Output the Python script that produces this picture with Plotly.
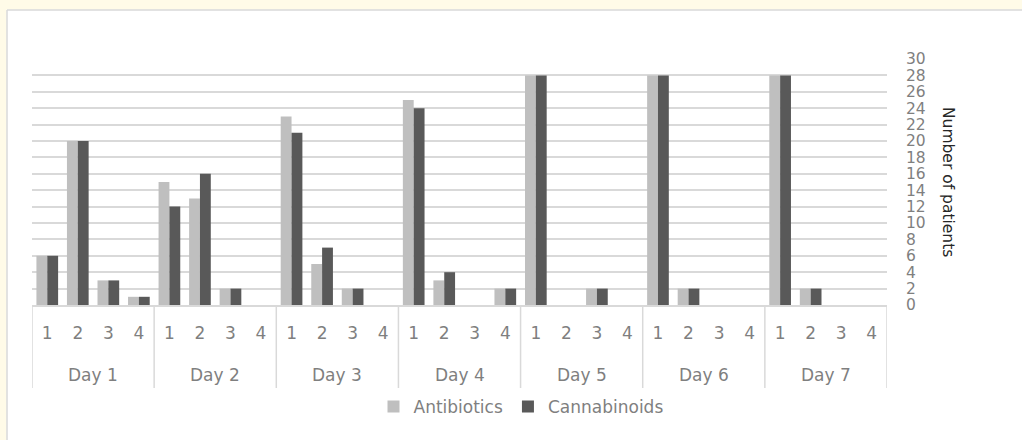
import plotly.graph_objects as go

days = ["Day 1", "Day 2", "Day 3", "Day 4", "Day 5", "Day 6", "Day 7"]
subs = ["1", "2", "3", "4"]

antibiotics = [
    6, 20, 3, 1,
    15, 13, 2, 0,
    23, 5, 2, 0,
    25, 3, 0, 2,
    28, 0, 2, 0,
    28, 2, 0, 0,
    28, 2, 0, 0,
]
cannabinoids = [
    6, 20, 3, 1,
    12, 16, 2, 0,
    21, 7, 2, 0,
    24, 4, 0, 2,
    28, 0, 2, 0,
    28, 2, 0, 0,
    28, 2, 0, 0,
]
y_ticks = list(range(0, 31, 2))

n_sub = len(subs)
positions = list(range(len(days) * n_sub))
inner = [s for _ in days for s in subs]
day_centers = [i * n_sub + (n_sub - 1) / 2 for i in range(len(days))]
boundaries = [i * n_sub - 0.5 for i in range(len(days) + 1)]

FONT = "DejaVu Sans"
GRAY = "#7f7f7f"
GRID = "#d9d9d9"
CREAM = "#fffbe8"

fig = go.Figure()
fig.add_trace(go.Bar(name="Antibiotics", x=positions, y=antibiotics,
                     marker=dict(color="#bfbfbf", line=dict(width=0))))
fig.add_trace(go.Bar(name="Cannabinoids", x=positions, y=cannabinoids,
                     marker=dict(color="#595959", line=dict(width=0))))

W, H = 1022, 440
L, R, T, B = 32, 135, 59, 135
pw, ph = W - L - R, H - T - B


def px2x(px):
    return (px - L) / pw


def py2y(py):
    return (H - B - py) / ph


annotations = [dict(
    text="Number of patients", textangle=90,
    xref="paper", yref="paper", x=px2x(948), y=0.5,
    xanchor="center", yanchor="middle", showarrow=False,
    font=dict(size=15.5, color="#262626", family=FONT),
)]
for d, c in zip(days, day_centers):
    annotations.append(dict(
        text=d, xref="x", yref="paper", x=c, y=py2y(375),
        xanchor="center", yanchor="middle", showarrow=False,
        font=dict(size=17, color=GRAY, family=FONT),
    ))

shapes = [
    dict(type="rect", xref="paper", yref="paper", layer="below",
         x0=px2x(-2), x1=px2x(W + 2), y0=py2y(9.5), y1=py2y(-2),
         fillcolor=CREAM, line=dict(width=0)),
    dict(type="rect", xref="paper", yref="paper", layer="below",
         x0=px2x(-2), x1=px2x(6.5), y0=py2y(H + 2), y1=py2y(-2),
         fillcolor=CREAM, line=dict(width=0)),
    dict(type="line", xref="paper", yref="paper", layer="below",
         x0=px2x(7), x1=px2x(W + 2), y0=py2y(10), y1=py2y(10),
         line=dict(color=GRID, width=1.5)),
    dict(type="line", xref="paper", yref="paper", layer="below",
         x0=px2x(7), x1=px2x(7), y0=py2y(10), y1=py2y(H + 2),
         line=dict(color=GRID, width=1.5)),
]
for bx in boundaries:
    shapes.append(dict(type="line", xref="x", yref="paper", layer="below",
                       x0=bx, x1=bx, y0=0, y1=py2y(388),
                       line=dict(color=GRID, width=1.5)))

fig.update_layout(
    width=W, height=H,
    margin=dict(l=L, r=R, t=T, b=B),
    paper_bgcolor="white",
    plot_bgcolor="white",
    barmode="group",
    bargap=0.29,
    bargroupgap=0,
    font=dict(family=FONT, size=17, color=GRAY),
    showlegend=True,
    legend=dict(orientation="h", x=px2x(521), y=py2y(407), xanchor="center",
                yanchor="middle", font=dict(size=17, color=GRAY, family=FONT),
                bgcolor="rgba(0,0,0,0)"),
    xaxis=dict(
        range=[-0.5, len(positions) - 0.5],
        tickvals=positions, ticktext=inner,
        showgrid=False, zeroline=False,
        showline=True, linecolor=GRID, linewidth=1.5,
        tickfont=dict(size=17, color=GRAY, family=FONT),
        ticks="",
        ticklabelstandoff=12,
    ),
    yaxis=dict(
        side="right",
        range=[0, 30],
        tickvals=y_ticks,
        showgrid=True, gridcolor=GRID, gridwidth=1.5,
        zeroline=False,
        showline=False,
        ticks="",
        ticklabelstandoff=18,
        tickfont=dict(size=15.5, color=GRAY, family=FONT),
    ),
    annotations=annotations,
    shapes=shapes,
)

fig.write_html("out.html", config={"displayModeBar": False},
               post_script="document.body.style.margin='0';")
